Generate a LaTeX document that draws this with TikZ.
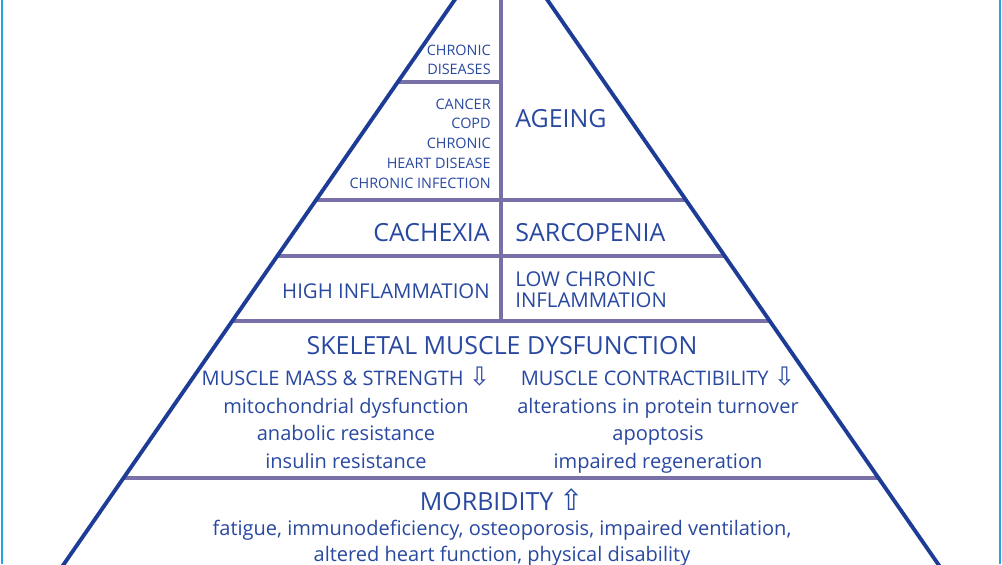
\documentclass[tikz,border=0pt]{standalone}
\usepackage{fontspec}
\setmainfont{Open Sans}
\newfontfamily\arrowfont{DejaVu Sans}
\definecolor{pyrblue}{RGB}{28,60,150}
\definecolor{txtblue}{RGB}{41,72,160}
\definecolor{rulegray}{RGB}{122,112,168}
\definecolor{edgeblue}{RGB}{41,160,224}
\tikzstyle{pyrside} = [draw=pyrblue, line width=2.2pt]
\tikzstyle{pyrrule} = [draw=rulegray, line width=2.1pt]
\tikzstyle{smalltxt} = [text=txtblue, inner sep=0pt, font={\fontsize{8.2}{11.2}\selectfont}]
\tikzstyle{midtxt} = [text=txtblue, inner sep=0pt, font={\fontsize{11.6}{12}\selectfont}]
\tikzstyle{bigtxt} = [text=txtblue, inner sep=0pt, font={\fontsize{14.2}{16}\selectfont}]
\tikzstyle{listtxt} = [text=txtblue, inner sep=0pt, align=center, font={\fontsize{11.4}{15.65}\selectfont}]
\newcommand{\pyrdown}{{\arrowfont\fontsize{14.5}{14}\selectfont ⇩}}
\newcommand{\pyrup}{{\arrowfont\fontsize{16.5}{16}\selectfont ⇧}}

\begin{document}
\begin{tikzpicture}
\useasboundingbox (0,0) rectangle (20.04,-11.28);
\clip (0,0) rectangle (20.04,-11.28);

% frame edges
\draw[edgeblue, line width=1.4pt] (0.04,0) -- (0.04,-11.28);
\draw[edgeblue, line width=1.4pt] (20.0,0) -- (20.0,-11.28);

% pyramid
\coordinate (apex) at (10.02,1.34);
\coordinate (bl) at (0.78,-12.0);
\coordinate (br) at (19.26,-12.0);

\coordinate (r1l) at (7.95,-1.64);
\coordinate (r1r) at (10.02,-1.64);
\coordinate (r2l) at (6.32,-4.0);
\coordinate (r2r) at (13.72,-4.0);
\coordinate (r3l) at (5.54,-5.12);
\coordinate (r3r) at (14.50,-5.12);
\coordinate (r4l) at (4.64,-6.42);
\coordinate (r4r) at (15.40,-6.42);
\coordinate (r5l) at (2.47,-9.56);
\coordinate (r5r) at (17.57,-9.56);
\coordinate (vtop) at (10.02,0.2);

\draw[pyrrule] (vtop) -- (r4l -| vtop);
\draw[pyrrule] (r1l) -- (r1r);
\draw[pyrrule] (r2l) -- (r2r);
\draw[pyrrule] (r3l) -- (r3r);
\draw[pyrrule] (r4l) -- (r4r);
\draw[pyrrule] (r5l) -- (r5r);
\draw[pyrside] (bl) -- (apex) -- (br);

% labels
\node[smalltxt, anchor=east, align=right] (chrdis) at (9.82,-1.2) {CHRONIC\\DISEASES};
\node[smalltxt, anchor=east, align=right] (dislist) at (9.82,-2.87) {CANCER\\COPD\\CHRONIC\\HEART DISEASE\\CHRONIC INFECTION};
\node[bigtxt, anchor=west] (ageing) at (10.3,-2.38) {AGEING};

\node[bigtxt, anchor=east] (cachexia) at (9.8,-4.66) {CACHEXIA};
\node[bigtxt, anchor=west] (sarco) at (10.3,-4.66) {SARCOPENIA};

\node[midtxt, anchor=east] (highinf) at (9.8,-5.82) {HIGH INFLAMMATION};
\node[midtxt, anchor=west, align=left, font={\fontsize{11.6}{12.1}\selectfont}] (lowinf) at (10.3,-5.8) {LOW CHRONIC\\INFLAMMATION};

\node[bigtxt] (skeletal) at (10.04,-6.92) {SKELETAL MUSCLE DYSFUNCTION};
\node[listtxt] (masslist) at (6.92,-8.36) {MUSCLE MASS \& STRENGTH \pyrdown\\mitochondrial dysfunction\\anabolic resistance\\insulin resistance};
\node[listtxt] (contrlist) at (13.16,-8.40) {MUSCLE CONTRACTIBILITY \pyrdown\\alterations in protein turnover\\apoptosis\\impaired regeneration};

\node[bigtxt] (morbid) at (10.04,-10.0) {MORBIDITY \pyrup};
\node[listtxt, font={\fontsize{11.4}{14.8}\selectfont}] (morblist) at (10.04,-10.86) {fatigue, immunodeficiency, osteoporosis, impaired ventilation,\\altered heart function, physical disability};
\end{tikzpicture}
\end{document}
